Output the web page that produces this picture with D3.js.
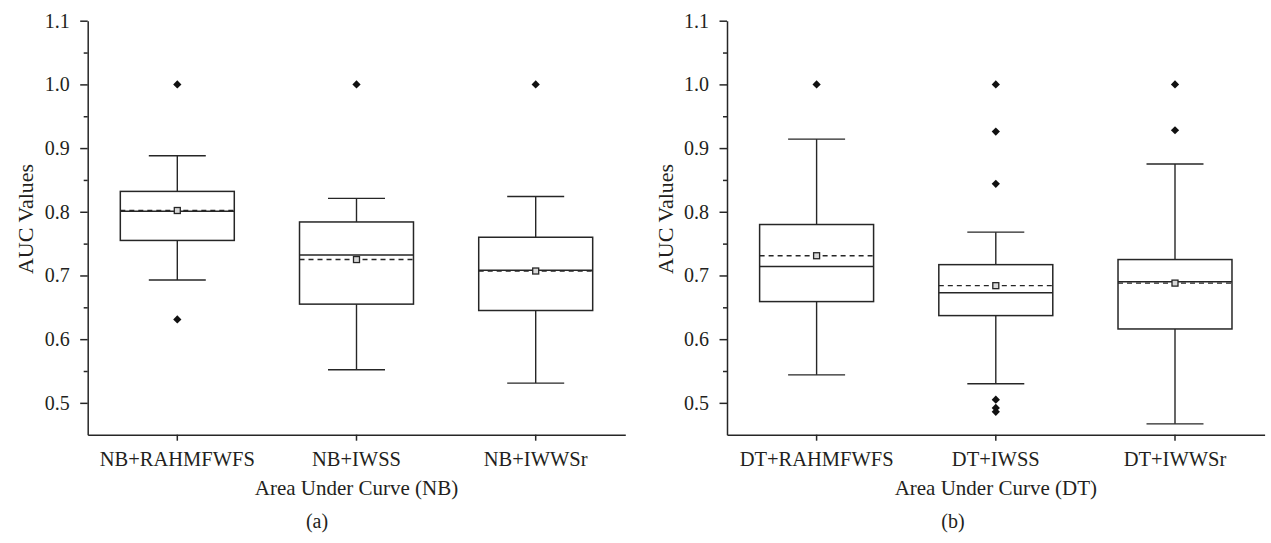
<!DOCTYPE html>
<html>
<head>
<meta charset="utf-8">
<script src="https://cdn.jsdelivr.net/npm/d3@7"></script>
<style>
  body { margin: 0; background: #fff; }
  text { font-family: "Liberation Serif", "DejaVu Serif", serif; fill: #231f20; }
</style>
</head>
<body>
<div id="chart"></div>
<script>
// categories
const nbGroups = ["NB+RAHMFWFS", "NB+IWSS", "NB+IWWSr"];
const dtGroups = ["DT+RAHMFWFS", "DT+IWSS", "DT+IWWSr"];

// NB box stats
const nbLow    = [0.693, 0.552, 0.531];
const nbQ1     = [0.755, 0.655, 0.645];
const nbMedian = [0.801, 0.732, 0.708];
const nbMean   = [0.802, 0.725, 0.707];
const nbQ3     = [0.832, 0.784, 0.760];
const nbHigh   = [0.888, 0.821, 0.824];
const nbOutliers = [[1.0, 0.631], [1.0], [1.0]];

// DT box stats
const dtLow    = [0.544, 0.530, 0.467];
const dtQ1     = [0.659, 0.637, 0.616];
const dtMedian = [0.714, 0.673, 0.690];
const dtMean   = [0.731, 0.684, 0.688];
const dtQ3     = [0.780, 0.717, 0.725];
const dtHigh   = [0.914, 0.768, 0.875];
const dtOutliers = [[1.0], [1.0, 0.926, 0.844, 0.505, 0.492, 0.486], [1.0, 0.928]];

// y tick values
const yTicks = [0.5, 0.6, 0.7, 0.8, 0.9, 1.0, 1.1];
const yMinor = [0.55, 0.65, 0.75, 0.85, 0.95, 1.05];

const ink = "#262626";

const svg = d3.select("#chart").append("svg")
    .attr("width", 1271)
    .attr("height", 543);

// shared y scale
const y = d3.scaleLinear()
    .domain([0.45, 1.1])
    .range([434.7, 20.7]);

function buildTable(groups, low, q1, med, mean, q3, high, outs) {
  return groups.map(function(g, i) {
    return {name: g, low: low[i], q1: q1[i], median: med[i], mean: mean[i],
            q3: q3[i], high: high[i], outliers: outs[i]};
  });
}

function drawPanel(opts) {
  const data = opts.data;
  const x = d3.scaleBand()
      .domain(data.map(d => d.name))
      .range([opts.left, opts.right])
      .padding(0);

  const g = svg.append("g");

  // y axis, major ticks with labels
  const yAxis = g.append("g")
      .attr("transform", `translate(${opts.left},0)`)
      .call(d3.axisLeft(y).tickValues(yTicks).tickFormat(d3.format(".1f"))
            .tickSize(7.5).tickSizeOuter(0).tickPadding(10.5));
  // minor ticks
  g.append("g")
      .attr("transform", `translate(${opts.left},0)`)
      .call(d3.axisLeft(y).tickValues(yMinor).tickFormat("")
            .tickSize(4).tickSizeOuter(0))
      .select(".domain").remove();

  // x axis
  const xAxis = g.append("g")
      .attr("transform", `translate(0,${y(0.45)})`)
      .call(d3.axisBottom(x).tickSize(6).tickSizeOuter(0).tickPadding(11));

  g.selectAll(".domain, .tick line")
      .attr("stroke", ink)
      .attr("stroke-width", 1.5);
  yAxis.selectAll("text").style("font-size", "20px");
  xAxis.selectAll("text").style("font-size", "20.5px");

  // axis titles
  g.append("text")
      .attr("transform", `translate(${opts.left - 62},219) rotate(-90)`)
      .attr("text-anchor", "middle")
      .attr("dominant-baseline", "central")
      .style("font-size", "22px")
      .text("AUC Values");

  g.append("text")
      .attr("x", (opts.left + opts.right) / 2)
      .attr("y", 495)
      .attr("text-anchor", "middle")
      .style("font-size", "21px")
      .text(opts.title);

  g.append("text")
      .attr("x", opts.tagX)
      .attr("y", 528)
      .attr("text-anchor", "middle")
      .style("font-size", "20px")
      .text(opts.tag);

  const boxW = x.bandwidth() * 0.636;
  const capW = boxW / 2;

  const boxes = g.selectAll("g.box")
      .data(data)
      .enter()
      .append("g")
      .attr("class", "box")
      .attr("transform", d => `translate(${x(d.name) + x.bandwidth() / 2},0)`);

  // whiskers
  boxes.append("line")
      .attr("x1", 0).attr("x2", 0)
      .attr("y1", d => y(d.high)).attr("y2", d => y(d.q3))
      .attr("stroke", ink).attr("stroke-width", 1.4);
  boxes.append("line")
      .attr("x1", 0).attr("x2", 0)
      .attr("y1", d => y(d.q1)).attr("y2", d => y(d.low))
      .attr("stroke", ink).attr("stroke-width", 1.4);
  // caps
  boxes.append("line")
      .attr("x1", -capW / 2).attr("x2", capW / 2)
      .attr("y1", d => y(d.high)).attr("y2", d => y(d.high))
      .attr("stroke", ink).attr("stroke-width", 1.4);
  boxes.append("line")
      .attr("x1", -capW / 2).attr("x2", capW / 2)
      .attr("y1", d => y(d.low)).attr("y2", d => y(d.low))
      .attr("stroke", ink).attr("stroke-width", 1.4);

  // box
  boxes.append("rect")
      .attr("x", -boxW / 2)
      .attr("width", boxW)
      .attr("y", d => y(d.q3))
      .attr("height", d => y(d.q1) - y(d.q3))
      .attr("fill", "#fff")
      .attr("stroke", ink)
      .attr("stroke-width", 1.5);

  // median
  boxes.append("line")
      .attr("x1", -boxW / 2).attr("x2", boxW / 2)
      .attr("y1", d => y(d.median)).attr("y2", d => y(d.median))
      .attr("stroke", ink).attr("stroke-width", 1.5);

  // mean (dashed)
  boxes.append("line")
      .attr("x1", -boxW / 2).attr("x2", boxW / 2)
      .attr("y1", d => y(d.mean)).attr("y2", d => y(d.mean))
      .attr("stroke", ink).attr("stroke-width", 1.4)
      .attr("stroke-dasharray", "5,4");

  // mean marker
  boxes.append("rect")
      .attr("x", -3).attr("width", 6)
      .attr("y", d => y(d.mean) - 3).attr("height", 6)
      .attr("fill", "#d8d8d8")
      .attr("stroke", ink)
      .attr("stroke-width", 1.3);

  // outliers
  boxes.selectAll("path.out")
      .data(d => d.outliers)
      .enter()
      .append("path")
      .attr("class", "out")
      .attr("d", d3.symbol().type(d3.symbolSquare).size(34))
      .attr("transform", v => `translate(0,${y(v)}) rotate(45)`)
      .attr("fill", "#111");
}

drawPanel({
  data: buildTable(nbGroups, nbLow, nbQ1, nbMedian, nbMean, nbQ3, nbHigh, nbOutliers),
  left: 87.7, right: 625.3,
  title: "Area Under Curve (NB)",
  tag: "(a)", tagX: 317
});

drawPanel({
  data: buildTable(dtGroups, dtLow, dtQ1, dtMedian, dtMean, dtQ3, dtHigh, dtOutliers),
  left: 727, right: 1264.6,
  title: "Area Under Curve (DT)",
  tag: "(b)", tagX: 953
});
</script>
</body>
</html>
